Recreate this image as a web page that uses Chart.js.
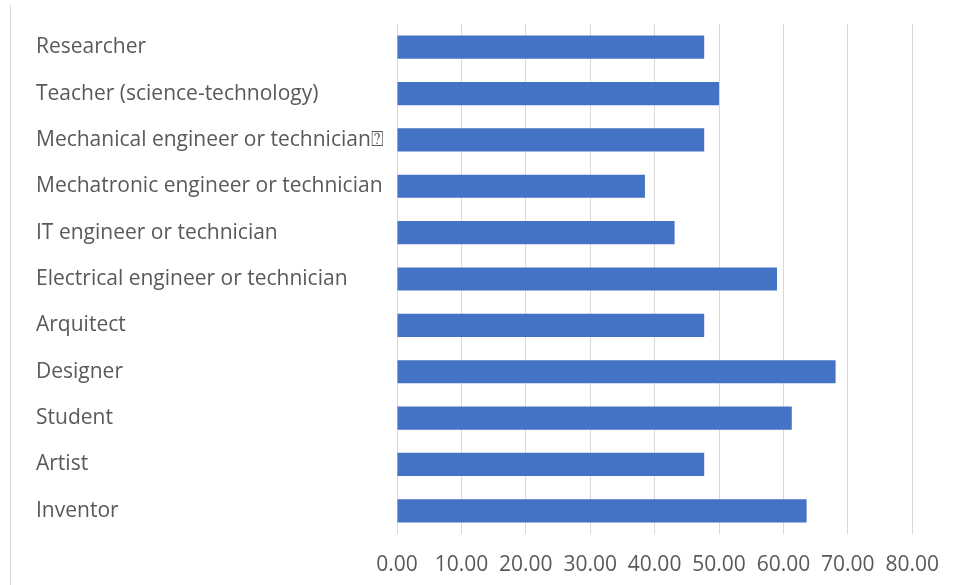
<!DOCTYPE html>
<html>
<head>
<meta charset="utf-8">
<script src="https://cdn.jsdelivr.net/npm/chart.js@4/dist/chart.umd.min.js"></script>
<style>
  html, body { margin: 0; padding: 0; background: #ffffff; }
  #wrap { position: relative; width: 957px; height: 585px; }
  #frame { position: absolute; left: 10px; top: 5px; width: 1px; height: 580px; background: #d9d9d9; }
  canvas { position: absolute; left: 0; top: 0; }
</style>
</head>
<body>
<div id="wrap">
  <div id="frame"></div>
  <canvas id="chart" width="957" height="585"></canvas>
</div>
<script>
// Professions and their scores
const categories = [
  "Researcher",
  "Teacher (science-technology)",
  "Mechanical engineer or technician\u2370",
  "Mechatronic engineer or technician",
  "IT engineer or technician",
  "Electrical engineer or technician",
  "Arquitect",
  "Designer",
  "Student",
  "Artist",
  "Inventor"
];
const scores = [47.7, 50.0, 47.7, 38.5, 43.1, 59.0, 47.7, 68.1, 61.3, 47.7, 63.6];
const axisMin = 0;
const axisMax = 80;
const axisStep = 10;

const textColor = "#595959";
const fontFamily = "'Open Sans', 'Noto Sans', sans-serif";

new Chart(document.getElementById("chart"), {
  type: "bar",
  data: {
    labels: categories,
    datasets: [{
      data: scores,
      backgroundColor: "#4472c4",
      borderWidth: 0,
      categoryPercentage: 1.0,
      barPercentage: 0.5
    }]
  },
  options: {
    indexAxis: "y",
    responsive: false,
    animation: false,
    devicePixelRatio: 1,
    layout: { padding: { left: 36, top: 24, right: 42, bottom: 9 } },
    plugins: { legend: { display: false }, tooltip: { enabled: false } },
    scales: {
      x: {
        min: axisMin,
        max: axisMax,
        border: { display: false },
        grid: { color: "#d9d9d9", lineWidth: 1, drawTicks: false },
        ticks: {
          stepSize: axisStep,
          padding: 18,
          color: textColor,
          font: { family: fontFamily, size: 21 },
          callback: v => Number(v).toFixed(2)
        },
        afterFit: scale => { scale.height = 42; }
      },
      y: {
        border: { display: false },
        grid: { display: false, drawTicks: false },
        ticks: {
          crossAlign: "far",
          color: textColor,
          font: { family: fontFamily, size: 21 }
        },
        afterFit: scale => { scale.width = 361; }
      }
    }
  }
});
</script>
</body>
</html>
